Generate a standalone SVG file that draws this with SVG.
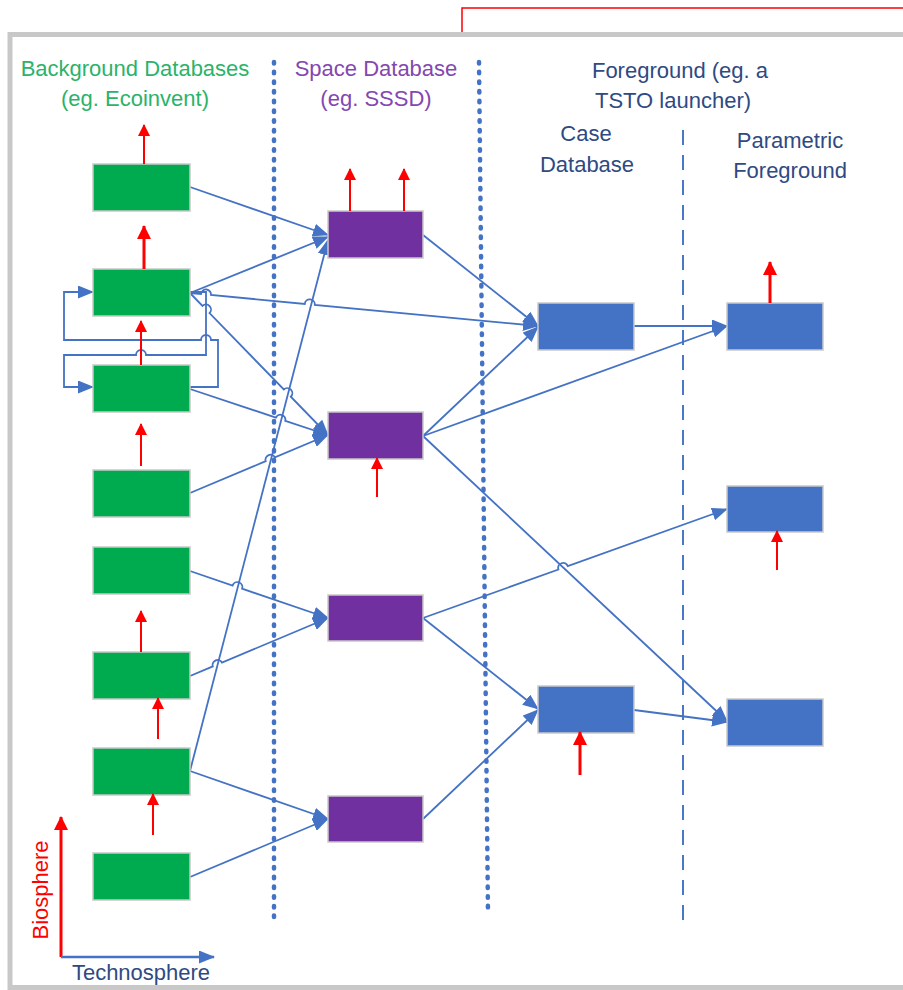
<svg xmlns="http://www.w3.org/2000/svg" width="903" height="990" viewBox="0 0 903 990">
<style>
.t{font-family:"Liberation Sans",Arial,sans-serif;font-size:22px;text-anchor:middle}
.green{fill:#2bb36a}
.purple{fill:#8447b0}
.navy{fill:#2f4a82}
.bg{fill:#00aa4e;stroke:#c9c9c9;stroke-width:1.5}
.sp{fill:#7030a0;stroke:#c9c9c9;stroke-width:1.5}
.fg{fill:#4472c4;stroke:#c9c9c9;stroke-width:1.5}
.c{fill:none;stroke:#4472c4;stroke-width:1.8;marker-end:url(#ba)}
.loop{fill:none;stroke:#4472c4;stroke-width:1.8;marker-end:url(#ba)}
.r{stroke:#ff0000;stroke-width:2;marker-end:url(#ra)}
.rb{stroke:#ff0000;stroke-width:3;marker-end:url(#rab)}
.dot{stroke:#4472c4;stroke-width:4.5;stroke-linecap:round;stroke-dasharray:1.5 8.2;fill:none}
</style>
<defs>
<marker id="ba" viewBox="0 0 16 13" refX="15" refY="6.5" markerWidth="16" markerHeight="13" markerUnits="userSpaceOnUse" orient="auto"><path d="M0,0 L16,6.5 L0,13 z" fill="#4472c4"/></marker>
<marker id="ra" viewBox="0 0 12 12" refX="11" refY="6" markerWidth="12" markerHeight="12" markerUnits="userSpaceOnUse" orient="auto"><path d="M0,0 L12,6 L0,12 z" fill="#ff0000"/></marker>
<marker id="rab" viewBox="0 0 14 14" refX="13" refY="7" markerWidth="14" markerHeight="14" markerUnits="userSpaceOnUse" orient="auto"><path d="M0,0 L14,7 L0,14 z" fill="#ff0000"/></marker>
</defs>
<rect x="0" y="0" width="903" height="990" fill="#ffffff"/>
<polyline points="462,34 462,8 903,8" fill="none" stroke="#ff0000" stroke-width="1.5"/>
<rect x="10" y="34.5" width="900" height="953" fill="#ffffff" stroke="#c8c8c8" stroke-width="5"/>

<g id="headers">
<text class="t green" x="135" y="76">Background Databases</text>
<text class="t green" x="135" y="106">(eg. Ecoinvent)</text>
<text class="t purple" x="376" y="76">Space Database</text>
<text class="t purple" x="376" y="106">(eg. SSSD)</text>
<text class="t navy" x="680" y="78">Foreground (eg. a</text>
<text class="t navy" x="673" y="108">TSTO launcher)</text>
<text class="t navy" x="586" y="141">Case</text>
<text class="t navy" x="587" y="172">Database</text>
<text class="t navy" x="790" y="148">Parametric</text>
<text class="t navy" x="790" y="178">Foreground</text>
</g>

<g id="separators">
<line class="dot" x1="274" y1="62" x2="274" y2="918"/>
<line class="dot" x1="479" y1="62" x2="488" y2="913"/>
<line x1="683" y1="130" x2="683" y2="925" stroke="#4a78c8" stroke-width="2" stroke-dasharray="15 10"/>
</g>

<g id="connectors">
<path class="c" d="M190,187 L328,235"/>
<path class="c" d="M190,293 L328,237"/>
<path class="c" d="M190,771 L328,240"/>
<path class="c" d="M190,293 L201,294 A4 4 0 0 1 211,295 L304.8,303.9 A5 5 0 0 1 314.8,304.9 L538,326"/>
<path class="c" d="M190,293 L202.5,305.9 A5 5 0 0 1 209.5,313.1 L283.8,389.5 A5 5 0 0 1 290.8,396.7 L328,435"/>
<path class="c" d="M190,389 L275.9,417.6 A5 5 0 0 1 285.3,420.8 L328,435"/>
<path class="c" d="M190,493 L265.7,461.2 A5 5 0 0 1 274.9,457.4 L328,435"/>
<path class="c" d="M190,571 L232.6,585.5 A5 5 0 0 1 242.1,588.7 L328,618"/>
<path class="c" d="M190,676 L212.8,666.4 A5 5 0 0 1 222,662.6 L328,618"/>
<path class="c" d="M190,771 L328,819"/>
<path class="c" d="M190,877 L328,819"/>
<path class="loop" d="M190,387 L218,387 L218,340 L211,340 A5 5 0 0 0 201,340 L64,340 L64,292 L93,292"/>
<path class="loop" d="M190,292 L206,292 L206,355 L146,355 A5 5 0 0 0 136,355 L64,355 L64,387 L93,387"/>
<path class="c" d="M423,235 L538,326"/>
<path class="c" d="M423,436 L538,327"/>
<path class="c" d="M423,436 L727,326"/>
<path class="c" d="M423,436 L727,721"/>
<path class="c" d="M423,618 L558.4,569.5 A5 5 0 0 1 567.8,566.1 L727,509"/>
<path class="c" d="M423,618 L538,709"/>
<path class="c" d="M423,819 L538,710"/>
<path class="c" d="M634,326 L727,326"/>
<path class="c" d="M634,710 L727,722"/>
</g>

<g id="bg1"><rect class="bg" x="93" y="164" width="97" height="47"/></g>
<g id="bg2"><rect class="bg" x="93" y="269" width="97" height="47"/></g>
<g id="bg3"><rect class="bg" x="93" y="365" width="97" height="47"/></g>
<g id="bg4"><rect class="bg" x="93" y="470" width="97" height="47"/></g>
<g id="bg5"><rect class="bg" x="93" y="547" width="97" height="47"/></g>
<g id="bg6"><rect class="bg" x="93" y="652" width="97" height="47"/></g>
<g id="bg7"><rect class="bg" x="93" y="748" width="97" height="47"/></g>
<g id="bg8"><rect class="bg" x="93" y="853" width="97" height="47"/></g>

<g id="sp1"><rect class="sp" x="328" y="211" width="95" height="47"/></g>
<g id="sp2"><rect class="sp" x="328" y="412" width="95" height="47"/></g>
<g id="sp3"><rect class="sp" x="328" y="595" width="95" height="46"/></g>
<g id="sp4"><rect class="sp" x="328" y="796" width="95" height="46"/></g>

<g id="case1"><rect class="fg" x="538" y="303" width="96" height="47"/></g>
<g id="case2"><rect class="fg" x="538" y="686" width="96" height="47"/></g>
<g id="par1"><rect class="fg" x="727" y="303" width="96" height="47"/></g>
<g id="par2"><rect class="fg" x="727" y="486" width="96" height="46"/></g>
<g id="par3"><rect class="fg" x="727" y="699" width="96" height="47"/></g>

<g id="flows">
<line class="r" x1="144" y1="164" x2="144" y2="125"/>
<line class="rb" x1="144" y1="269" x2="144" y2="226"/>
<line class="r" x1="141" y1="365" x2="141" y2="321"/>
<line class="r" x1="141" y1="466" x2="141" y2="424"/>
<line class="r" x1="141" y1="652" x2="141" y2="611"/>
<line class="r" x1="158" y1="739" x2="158" y2="698"/>
<line class="r" x1="153" y1="835" x2="153" y2="794"/>
<line class="r" x1="350" y1="211" x2="350" y2="169"/>
<line class="r" x1="404" y1="211" x2="404" y2="169"/>
<line class="r" x1="377" y1="497" x2="377" y2="458"/>
<line class="rb" x1="580" y1="775" x2="580" y2="732"/>
<line class="rb" x1="770" y1="303" x2="770" y2="262"/>
<line class="r" x1="777" y1="570" x2="777" y2="531"/>
</g>

<g id="axes">
<line x1="61" y1="957" x2="61" y2="817" stroke="#ff0000" stroke-width="3" marker-end="url(#rab)"/>
<line x1="61" y1="957" x2="214" y2="957" stroke="#4472c4" stroke-width="2.5" marker-end="url(#ba)"/>
<text class="t" x="48" y="890" fill="#ff0000" transform="rotate(-90 48 890)">Biosphere</text>
<text class="t navy" x="141" y="980">Technosphere</text>
</g>
</svg>
